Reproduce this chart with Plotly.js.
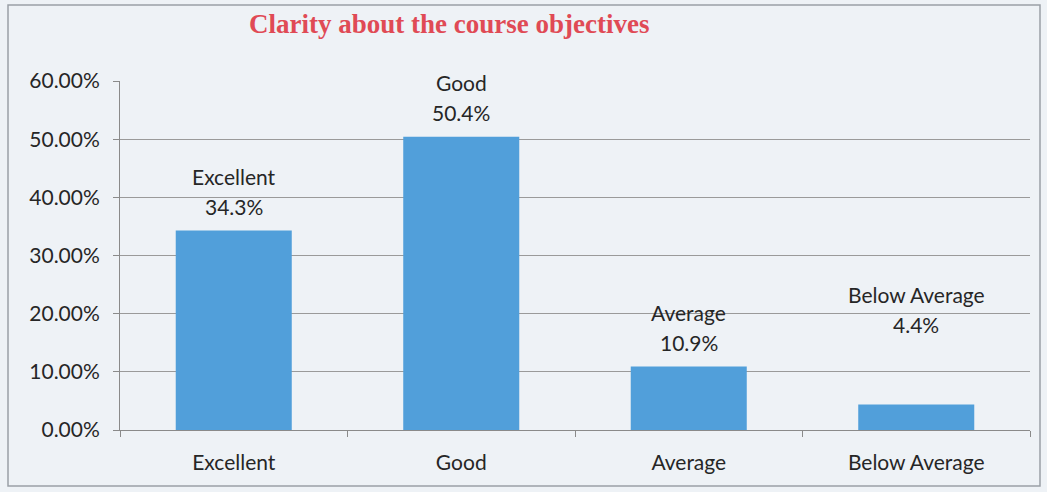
<!DOCTYPE html>
<html><head><meta charset="utf-8">
<script src="https://cdn.plot.ly/plotly-3.0.1.min.js"></script>
<style>html,body{margin:0;padding:0;background:#eef2f6;}</style>
</head><body>
<div id="chart" style="width:1047px;height:492px;"></div>
<script>
const categories = ["Excellent", "Good", "Average", "Below Average"];
const values = [0.343, 0.504, 0.109, 0.044];
const valueLabels = ["34.3%", "50.4%", "10.9%", "4.4%"];
const labelLift = [0, 0, 0, 56];

const font = "Lato, 'Open Sans', sans-serif";
const labelFont = {family: font, size: 21, color: "#262626"};
const annotations = [];
categories.forEach((c, i) => {
  annotations.push({x: c, y: values[i], xref: "x", yref: "y", text: valueLabels[i],
    showarrow: false, yanchor: "middle", yshift: 24 + labelLift[i], font: labelFont});
  annotations.push({x: c, y: values[i], xref: "x", yref: "y", text: c,
    showarrow: false, yanchor: "middle", yshift: 54 + labelLift[i], font: labelFont});
});
annotations.push({
  text: "Clarity about the course objectives", xref: "paper", yref: "paper",
  x: (449 - 120) / 910, y: 1, yshift: 57, showarrow: false, xanchor: "center", yanchor: "middle",
  font: {family: "'Liberation Serif', 'Times New Roman', serif", size: 27, color: "#e04a55", weight: "bold"}
});

Plotly.newPlot("chart", [{
  type: "bar", x: categories, y: values,
  marker: {color: "#519fda"}, hoverinfo: "none"
}], {
  width: 1047, height: 492,
  margin: {l: 120, r: 17, t: 81, b: 62},
  paper_bgcolor: "#eef2f6", plot_bgcolor: "rgba(0,0,0,0)",
  bargap: 0.49,
  showlegend: false,
  xaxis: {
    type: "category", tickson: "boundaries", ticks: "outside", ticklen: 6, tickcolor: "#8a8a8a",
    showline: true, linecolor: "#8a8a8a", showgrid: false, ticklabelstandoff: 14,
    tickfont: {family: font, size: 21, color: "#262626"}
  },
  yaxis: {
    range: [0, 0.6], dtick: 0.1, tickformat: ".2%",
    ticks: "outside", ticklen: 6, tickcolor: "#8a8a8a",
    showline: true, linecolor: "#8a8a8a", ticklabelstandoff: 9,
    gridcolor: "#9a9a9a", gridwidth: 1, zeroline: false,
    tickfont: {family: font, size: 21, color: "#262626"}
  },
  annotations: annotations,
  shapes: [{
    type: "rect", xref: "paper", yref: "paper",
    x0: -112/910, x1: 1040/910 - 120/910, y0: -56/349, y1: 1 + 76/349,
    line: {color: "#9aa0a6", width: 1.5}
  }]
}, {displayModeBar: false, staticPlot: true});
</script>
</body></html>
